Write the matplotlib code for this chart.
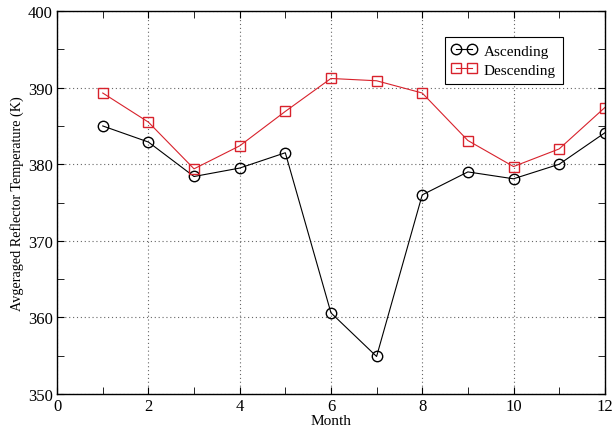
import numpy as np
import matplotlib
matplotlib.use("Agg")
import matplotlib.pyplot as plt
from matplotlib.ticker import MultipleLocator

plt.rcParams['font.family'] = ['Liberation Serif', 'DejaVu Serif']
plt.rcParams['mathtext.fontset'] = 'stix'

months = [1, 2, 3, 4, 5, 6, 7, 8, 9, 10, 11, 12]
ascending = [385.0, 382.9, 378.4, 379.5, 381.5, 360.6, 354.9, 376.0, 379.0, 378.1, 380.0, 384.1]
descending = [389.3, 385.5, 379.4, 382.4, 386.9, 391.2, 390.9, 389.3, 383.1, 379.7, 382.0, 387.4]


def draw():
    fig = plt.figure(figsize=(6.14, 4.31), dpi=100)
    ax = fig.add_axes([0.093, 0.0835, 0.892, 0.8885])

    ax.plot(months, ascending, color='black', lw=0.8, marker='o', ms=7.5,
            mfc='none', mec='black', mew=1.0, label='Ascending')
    ax.plot(months, descending, color='#d8222c', lw=0.8, marker='s', ms=7,
            mfc='none', mec='#d8222c', mew=1.0, label='Descending')

    ax.set_xlim(0, 12)
    ax.set_ylim(350, 400)
    ax.xaxis.set_major_locator(MultipleLocator(2))
    ax.xaxis.set_minor_locator(MultipleLocator(1))
    ax.yaxis.set_major_locator(MultipleLocator(10))
    ax.yaxis.set_minor_locator(MultipleLocator(5))
    ax.tick_params(which='both', direction='in', top=True, right=True, labelsize=12)
    ax.tick_params(which='major', length=5, pad=3)
    ax.tick_params(which='minor', length=5)
    ax.grid(True, which='major', linestyle=(0, (1, 2.5)), color='#666666', lw=0.8)
    for s in ax.spines.values():
        s.set_linewidth(1.0)

    ax.set_xlabel('Month', fontsize=11, labelpad=0)
    ax.set_ylabel('Avgeraged Reflector Temperature (K)', fontsize=10.2, labelpad=3)

    leg = ax.legend(loc='upper right', bbox_to_anchor=(0.923, 0.932), borderaxespad=0,
                    fancybox=False, edgecolor='black', framealpha=1, fontsize=11,
                    numpoints=2, handlelength=1.6, handletextpad=0.5,
                    borderpad=0.45, labelspacing=0.35)
    leg.get_frame().set_linewidth(0.8)

    fig.savefig('out.png', dpi=100)


draw()
